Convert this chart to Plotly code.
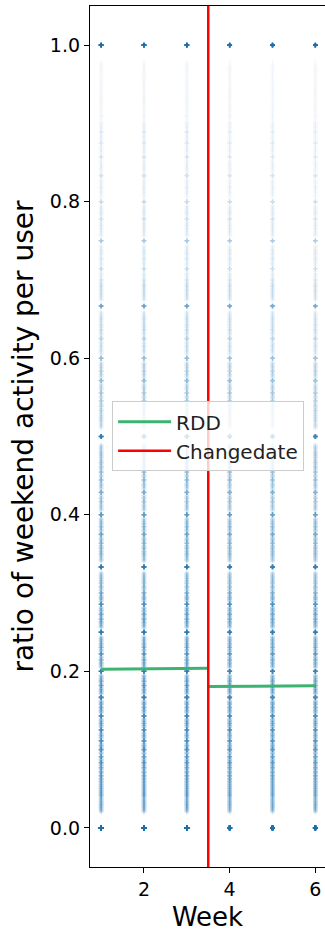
import plotly.graph_objects as go

# ---------------- data ----------------
weeks = [1, 2, 3, 4, 5, 6]
# number of active days/events per user (denominator of the ratio)
activity_totals = list(range(1, 51))
# relative number of users per group of 5 totals (1-5, 6-10, ..., 46-50)
users_by_total_group = [1.0, 0.95, 0.85, 0.75, 0.62, 0.5, 0.4, 0.3, 0.22, 0.15]
# opacity of one user point, by ratio band 0.0-0.1, ..., 0.9-1.0, and exactly 1.0
band_alpha = [0.4, 0.4, 0.35, 0.26, 0.2, 0.15, 0.1, 0.065, 0.045, 0.028, 0.1]
# per-week overall shading factor
week_factor = [1.0, 1.0, 1.0, 0.95, 0.92, 0.9]

rdd_left_x = [1, 3.5]
rdd_left_y = [0.2025, 0.204]
rdd_right_x = [3.5, 6]
rdd_right_y = [0.1805, 0.1815]
change_week = 3.5
y_range = [-0.05, 1.05]
x_range = [0.74, 6.225]
y_ticks = [0.0, 0.2, 0.4, 0.6, 0.8, 1.0]
x_ticks = [2, 4, 6]

# ---------------- build points ----------------
xs, ys, ops = [], [], []
for wi, w in enumerate(weeks):
    for n in activity_totals:
        g = users_by_total_group[(n - 1) // 5]
        for k in range(n + 1):
            r = k / n
            b = 10 if k == n else min(int(r * 10), 9)
            xs.append(w)
            ys.append(r)
            ops.append(min(1.0, band_alpha[b] * g * week_factor[wi]))

FONT = "DejaVu Sans"
fig = go.Figure()
fig.add_trace(go.Scatter(
    x=xs, y=ys, mode="markers", showlegend=False, hoverinfo="skip",
    marker=dict(symbol="cross", size=4, color="#1f77b4", opacity=ops,
                line=dict(width=0)),
))
fig.add_trace(go.Scatter(
    x=rdd_left_x + [None] + rdd_right_x,
    y=rdd_left_y + [None] + rdd_right_y,
    mode="lines", name="RDD",
    line=dict(color="#3cb371", width=3),
))
fig.add_trace(go.Scatter(
    x=[change_week, change_week], y=y_range, mode="lines", name="Changedate",
    line=dict(color="#ff0000", width=2.5),
))

fig.update_layout(
    width=325, height=933,
    margin=dict(l=90, r=0, t=6, b=66),
    paper_bgcolor="white", plot_bgcolor="white",
    font=dict(family=FONT, color="black", size=19),
    legend=dict(
        x=0.094, y=0.541, xanchor="left", yanchor="top",
        bgcolor="rgba(255,255,255,0.8)", bordercolor="#cccccc", borderwidth=1,
        font=dict(family=FONT, size=20, color="#222"),
        tracegroupgap=0, itemwidth=53,
    ),
    xaxis=dict(
        range=x_range, tickvals=x_ticks, ticktext=[str(t) for t in x_ticks],
        showgrid=False, zeroline=False,
        showline=True, linecolor="black", linewidth=1.3, mirror=True,
        ticks="outside", ticklen=5, tickwidth=1.3, tickcolor="black",
        tickfont=dict(size=19),
        title=dict(text="Week", font=dict(size=26), standoff=8),
    ),
    yaxis=dict(
        range=y_range, tickvals=y_ticks, ticktext=[f"{t:.1f}" for t in y_ticks],
        showgrid=False, zeroline=False,
        showline=True, linecolor="black", linewidth=1.3, mirror=False,
        ticks="outside", ticklen=5, tickwidth=1.3, tickcolor="black",
        tickfont=dict(size=19),
        title=dict(text="ratio of weekend activity per user", font=dict(size=28), standoff=8),
    ),
)
fig.write_html("out.html")
